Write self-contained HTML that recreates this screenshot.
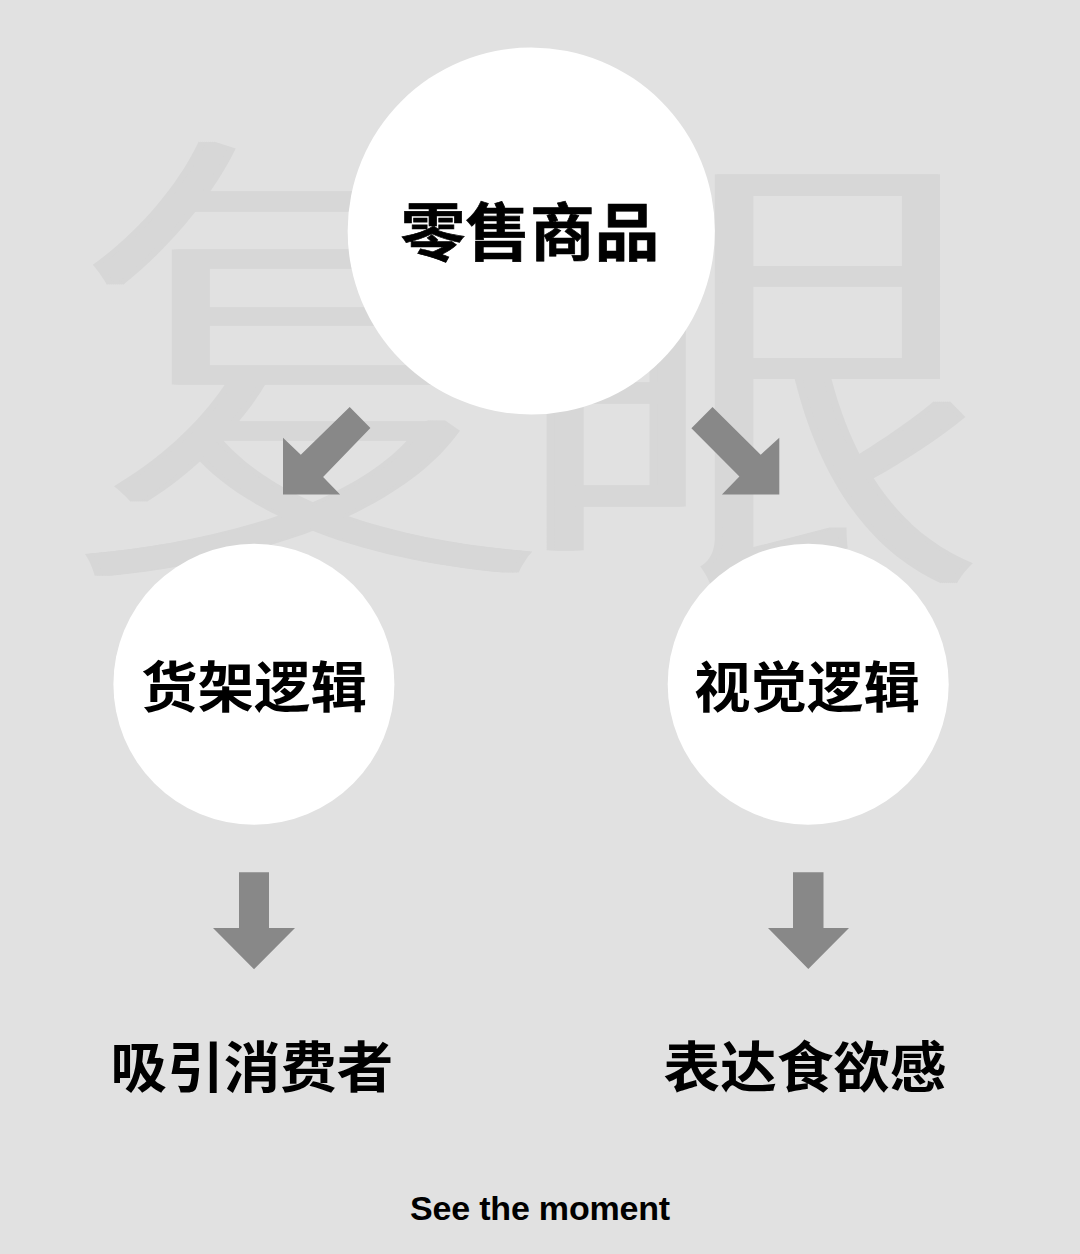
<!DOCTYPE html>
<html lang="zh-CN">
<head>
<meta charset="utf-8">
<title>See the moment</title>
<style>
html,body{margin:0;padding:0;}
body{width:1080px;height:1254px;background:#e1e1e1;overflow:hidden;position:relative;
  font-family:"Liberation Sans","Noto Sans CJK SC",sans-serif;}
#stage{position:absolute;left:0;top:0;width:1080px;height:1254px;overflow:hidden;background:#e1e1e1;}
.wm{position:absolute;color:#d7d7d7;font-family:"Liberation Sans","Noto Sans CJK SC",sans-serif;
  font-weight:300;font-size:470px;line-height:470px;white-space:nowrap;margin:0;
  text-shadow:8px 0 0 #d7d7d7,-8px 0 0 #d7d7d7,6px 0 0 #d7d7d7,-6px 0 0 #d7d7d7,4px 0 0 #d7d7d7,-4px 0 0 #d7d7d7,2px 0 0 #d7d7d7,-2px 0 0 #d7d7d7;transform-origin:0 0;}
#wm1{left:75px;top:138px;transform-origin:0 60px;transform:scaleY(1.015);}
#wm2{left:517px;top:148px;transform-origin:0 40px;transform:scaleY(1.02);}
.label{position:absolute;margin:0;color:#000;font-weight:700;white-space:nowrap;transform-origin:50% 50%;transform:scale(1.01,0.975);text-align:center;
  font-family:"Liberation Sans","Noto Sans CJK SC",sans-serif;}
#t0{left:347px;width:366px;top:191px;font-size:64px;line-height:84px;-webkit-text-stroke:0.7px #000;transform:scale(1.01,0.983);}
#t1{left:113px;width:282px;top:651px;font-size:56px;line-height:74px;}
#t2{left:666px;width:282px;top:651px;font-size:56px;line-height:74px;}
#t3{left:52px;width:400px;top:1031px;font-size:56px;line-height:74px;}
#t4{left:605px;width:400px;top:1031px;font-size:56px;line-height:74px;}
#foot{position:absolute;left:0;width:1080px;top:1187.5px;letter-spacing:-0.2px;text-align:center;margin:0;
  font-family:"Liberation Sans",sans-serif;font-weight:700;font-size:34px;line-height:40px;color:#000;}
svg#arrows{position:absolute;left:0;top:0;}
</style>
</head>
<body>
<div id="stage">
  <div class="wm" id="wm1">复</div>
  <div class="wm" id="wm2">眼</div>
  <svg id="arrows" width="1080" height="1254" viewBox="0 0 1080 1254">
    <g fill="#ffffff">
      <circle cx="531.25" cy="231" r="183.6"/>
      <circle cx="253.9" cy="684.2" r="140.5"/>
      <circle cx="808.2" cy="684.2" r="140.5"/>
    </g>
    <g fill="#888888">
      <polygon points="283,437.7 300.8,454.8 349.7,406.9 370.4,428 323.1,476.9 340.1,494.4 283,494.4"/>
      <polygon points="779.3,437.7 760.7,454.8 712.5,406.9 691.4,428.2 739.4,476.6 721.9,494.4 779.3,494.4"/>
      <polygon points="239,872.2 269,872.2 269,928 295,928 254,969.2 213,928 239,928"/>
      <polygon points="793,872.2 823.5,872.2 823.5,928 849,928 808.3,969 768,928 793,928"/>
    </g>
  </svg>
  <h1 class="label" id="t0">零售商品</h1>
  <h2 class="label" id="t1">货架逻辑</h2>
  <h2 class="label" id="t2">视觉逻辑</h2>
  <p class="label" id="t3">吸引消费者</p>
  <p class="label" id="t4">表达食欲感</p>
  <p id="foot">See the moment</p>
</div>
</body>
</html>
